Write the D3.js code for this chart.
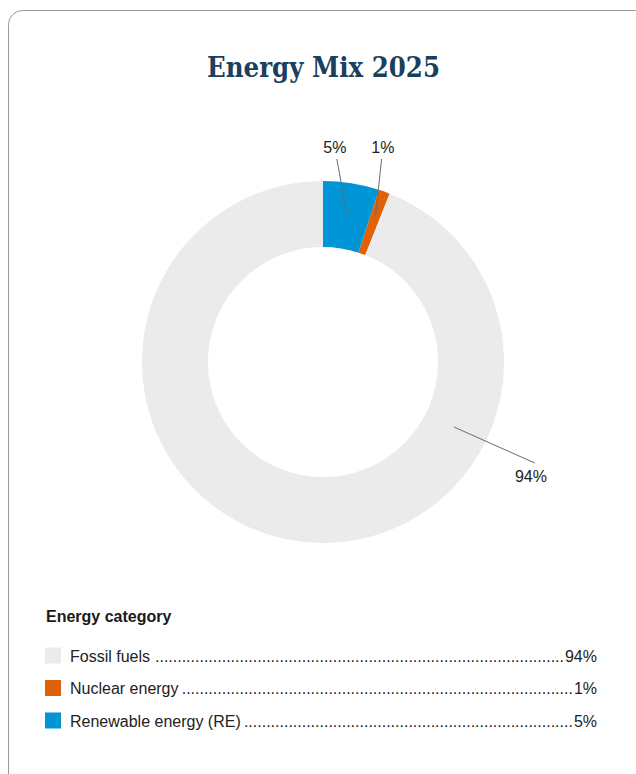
<!DOCTYPE html>
<html>
<head>
<meta charset="utf-8">
<script src="https://cdn.jsdelivr.net/npm/d3@7"></script>
<style>
  html, body { margin: 0; padding: 0; background: #fff; }
  svg { display: block; }
</style>
</head>
<body>
<svg id="chart" width="636" height="774"></svg>
<script>
// Energy mix shares (percent), legend order
const categories = ["Fossil fuels", "Nuclear energy", "Renewable energy (RE)"];
const shares = [94, 1, 5];
const colors = ["#ebebeb", "#df6108", "#0095d6"];
// order in which slices run clockwise from 12 o'clock
const sliceOrder = [2, 1, 0];

const svg = d3.select("#chart");
const font = "'Liberation Sans', Arial, sans-serif";
const fontSize = 16;

// card frame (runs off the right and bottom edges)
svg.append("rect")
  .attr("x", 8.5).attr("y", 10.5)
  .attr("width", 660).attr("height", 800)
  .attr("rx", 14).attr("ry", 14)
  .attr("fill", "#fff")
  .attr("stroke", "#9a9a9a").attr("stroke-width", 1);

// title, squeezed to its set width
svg.append("text")
  .attr("x", 323.5).attr("y", 77)
  .attr("text-anchor", "middle")
  .attr("font-family", "'DejaVu Serif', 'Liberation Serif', serif")
  .attr("font-weight", "bold")
  .attr("font-size", 27)
  .attr("fill", "#1b3f5e")
  .attr("textLength", 233)
  .attr("lengthAdjust", "spacingAndGlyphs")
  .text("Energy Mix 2025");

// donut
const cx = 323, cy = 362, outerR = 181, innerR = 115;
const g = svg.append("g").attr("transform", `translate(${cx},${cy})`);

const slices = sliceOrder.map(i => ({ i, name: categories[i], value: shares[i], color: colors[i] }));
const pie = d3.pie().sort(null).value(d => d.value).startAngle(0).endAngle(2 * Math.PI);
const arcs = pie(slices);
const arc = d3.arc().innerRadius(innerR).outerRadius(outerR);

g.selectAll("path.slice")
  .data(arcs)
  .enter().append("path")
  .attr("class", "slice")
  .attr("d", arc)
  .attr("fill", d => d.data.color);

// value labels with leader lines
// anchor: where the leader meets the ring; label: where the leader ends outside
const labelLayout = {
  2: { anchorAngle: null, anchorR: 151, labelAngle: 3.9, labelR: 203.5, dx: -2, baseline: -6 },
  1: { anchorAngle: null, anchorR: 155, labelAngle: 16.1, labelR: 211.3, dx: 1.3, baseline: -6 },
  0: { anchorAngle: 116.4, anchorR: 146, labelAngle: 115.5, labelR: 234.8, dx: -4, baseline: 19 }
};
const toXY = (deg, r) => {
  const a = deg * Math.PI / 180;
  return [r * Math.sin(a), -r * Math.cos(a)];
};
arcs.forEach(d => {
  const L = labelLayout[d.data.i];
  const midDeg = (d.startAngle + d.endAngle) / 2 * 180 / Math.PI;
  const aDeg = L.anchorAngle == null ? midDeg : L.anchorAngle;
  const p0 = toXY(aDeg, L.anchorR);
  const p1 = toXY(L.labelAngle, L.labelR);
  g.append("line")
    .attr("x1", p0[0]).attr("y1", p0[1])
    .attr("x2", p1[0]).attr("y2", p1[1])
    .attr("stroke", "#6b6b6b").attr("stroke-width", 1);
  g.append("text")
    .attr("x", p1[0] + L.dx).attr("y", p1[1] + L.baseline)
    .attr("text-anchor", "middle")
    .attr("font-family", font)
    .attr("font-size", fontSize)
    .attr("fill", "#222")
    .text(d.data.value + "%");
});

// legend
const legend = svg.append("g");
legend.append("text")
  .attr("x", 46).attr("y", 622)
  .attr("font-family", font)
  .attr("font-weight", "bold")
  .attr("font-size", fontSize)
  .attr("fill", "#1a1a1a")
  .text("Energy category");

const rowY = d3.scalePoint().domain(categories).range([655.5, 720.5]);
const valueRight = 597;

const probe = legend.append("text")
  .attr("font-family", font).attr("font-size", fontSize)
  .text("..........");
const dotW = probe.node().getComputedTextLength() / 10;
probe.remove();

categories.forEach((name, i) => {
  const y = rowY(name);
  legend.append("rect")
    .attr("x", 45).attr("y", y - 8)
    .attr("width", 16).attr("height", 16)
    .attr("fill", colors[i]);
  const label = legend.append("text")
    .attr("x", 70).attr("y", y + 6)
    .attr("font-family", font).attr("font-size", fontSize)
    .attr("fill", "#222")
    .text(name);
  const val = legend.append("text")
    .attr("x", valueRight).attr("y", y + 6)
    .attr("text-anchor", "end")
    .attr("font-family", font).attr("font-size", fontSize)
    .attr("fill", "#222")
    .text(shares[i] + "%");
  // dotted leader between the name and the value
  const start = 70 + label.node().getComputedTextLength() + 1;
  const end = valueRight - val.node().getComputedTextLength() - 1;
  const n = Math.max(0, Math.floor((end - start) / dotW));
  legend.append("text")
    .attr("x", end).attr("y", y + 6)
    .attr("text-anchor", "end")
    .attr("font-family", font).attr("font-size", fontSize)
    .attr("fill", "#222")
    .text(".".repeat(n));
});
</script>
</body>
</html>
